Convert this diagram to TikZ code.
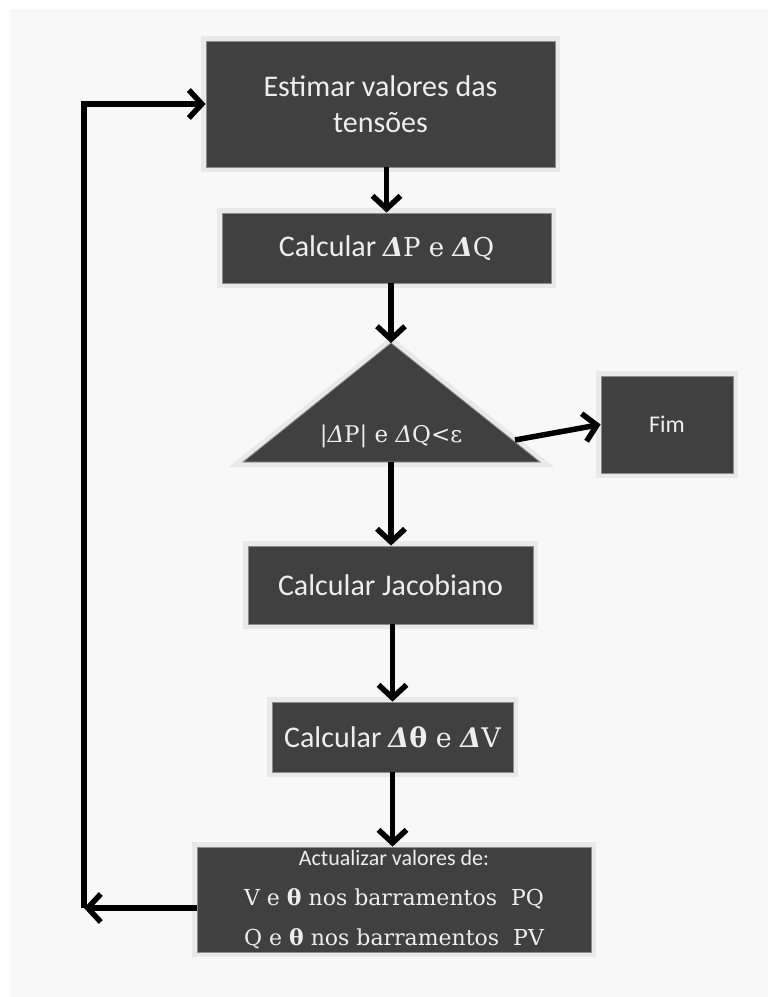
\documentclass[tikz,border=0pt]{standalone}
\usepackage{fontspec}
\setmainfont{Carlito}
\newfontfamily\serf{DejaVu Serif}
\usetikzlibrary{arrows.meta,positioning}
\definecolor{boxgrey}{RGB}{64,64,64}
\definecolor{rimgrey}{RGB}{233,233,233}
\definecolor{edgegrey}{RGB}{140,140,140}
\definecolor{panelgrey}{RGB}{248,248,248}
\definecolor{txtgrey}{RGB}{238,238,238}
\tikzset{stepbox/.style={preaction={draw=rimgrey,line width=10pt}, fill=boxgrey,
    draw=edgegrey, line width=0.8pt, text=txtgrey, inner sep=0pt, align=center},
  flow/.style={-{Straight Barb[length=13pt,width=28pt]}, line width=5.5pt, black}}
\newcommand{\bdelta}{{\serf\bfseries\itshape Δ}}
\newcommand{\btheta}{{\serf\bfseries θ}}

\begin{document}
\begin{tikzpicture}[x=1pt,y=-1pt]
  % background
  \fill[white] (0,0) rectangle (768,997);
  \fill[panelgrey] (10,9) rectangle (768,997);
  \node [stepbox, minimum width=349pt, minimum height=126pt,
    font=\fontsize{30}{36}\selectfont] (est) at (380.5,104) {Estimar valores das\\tensões};
  \node [stepbox, minimum width=329pt, minimum height=70pt,
    font=\fontsize{30}{36}\selectfont] (calc) at (386.5,248)
    {Calcular {\serf\fontsize{26}{30}\selectfont\bdelta P e \bdelta Q}};
  % decision triangle
  \coordinate (apex) at (391,343);
  \coordinate (tbase) at (391,462);
  \coordinate (texit) at (515,440);
  \path [preaction={draw=rimgrey,line width=10pt}, fill=boxgrey, draw=edgegrey,
    line width=0.8pt] (apex) -- (540,462) -- (243,462) -- cycle;
  \node [text=txtgrey, font=\serf\fontsize{23}{23}\selectfont] (tri) at (391,436)
    {|{\itshape Δ}P| e {\itshape Δ}Q<ε};
  \node [stepbox, minimum width=132pt, minimum height=97pt,
    font=\fontsize{24}{28}\selectfont] (fim) at (667,424.5) {Fim};
  \node [stepbox, minimum width=285pt, minimum height=78pt,
    font=\fontsize{30}{36}\selectfont] (jac) at (390.5,585) {Calcular Jacobiano};
  \node [stepbox, minimum width=241pt, minimum height=70pt,
    font=\fontsize{30}{36}\selectfont] (dth) at (392.5,737)
    {Calcular {\serf\fontsize{27}{30}\selectfont\bdelta\btheta\ e \bdelta V}};
  \node [stepbox, minimum width=394pt, minimum height=105pt,
    font=\fontsize{22}{40}\selectfont] (upd) at (394,899.5)
    {Actualizar valores de:\\
     {\serf V e \btheta\ nos barramentos~~PQ}\\
     {\serf Q e \btheta\ nos barramentos~~PV}};
  \coordinate (back) at (84,908);
  % arrows
  \draw [flow] (calc.north |- est.south) -- (calc.north);
  \draw [flow] (calc.south -| apex) -- (apex);
  \draw [flow] (texit) -- (fim.west);
  \draw [flow] (tbase) -- (tbase |- jac.north);
  \draw [flow] (jac.south -| dth.north) -- (dth.north);
  \draw [flow] (dth.south) -- (dth.south |- upd.north);
  \draw [flow] (upd.west |- back) -- (back);
  \draw [flow] (back) |- (est.west);
\end{tikzpicture}
\end{document}
